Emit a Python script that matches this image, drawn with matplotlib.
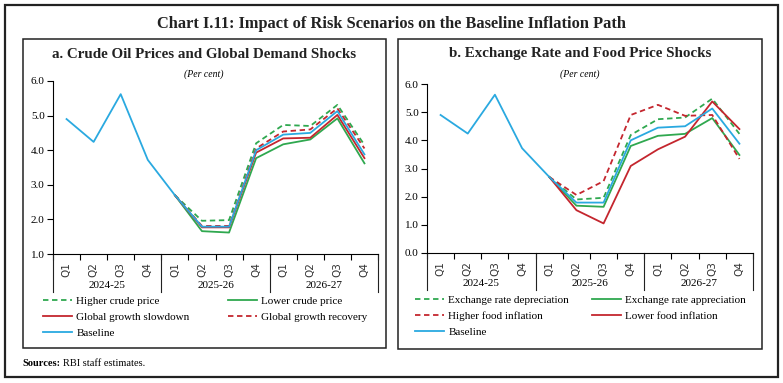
import matplotlib.pyplot as plt
from matplotlib.patches import Rectangle
from matplotlib.lines import Line2D

plt.rcParams['font.family'] = ['Liberation Serif', 'DejaVu Serif']

quarters = ['Q1', 'Q2', 'Q3', 'Q4'] * 3
years = ['2024-25', '2025-26', '2026-27']

baseline = [4.9, 4.24, 5.62, 3.72, 2.7, 1.79, 1.79, 4.0, 4.45, 4.5, 5.13, 3.88]

# panel a
higher_crude = [None, None, None, None, 2.7, 1.96, 1.98, 4.2, 4.73, 4.70, 5.31, 4.15]
lower_crude = [None, None, None, None, 2.7, 1.66, 1.62, 3.77, 4.17, 4.31, 4.92, 3.62]
growth_slowdown = [None, None, None, None, 2.7, 1.77, 1.77, 3.93, 4.34, 4.36, 5.02, 3.77]
growth_recovery = [None, None, None, None, 2.7, 1.81, 1.81, 4.05, 4.54, 4.60, 5.21, 4.05]

# panel b
fx_depreciation = [None, None, None, None, 2.7, 1.90, 1.96, 4.19, 4.75, 4.81, 5.48, 4.23]
fx_appreciation = [None, None, None, None, 2.7, 1.68, 1.64, 3.80, 4.16, 4.23, 4.79, 3.48]
higher_food = [None, None, None, None, 2.7, 2.06, 2.55, 4.90, 5.26, 4.87, 4.90, 3.34]
lower_food = [None, None, None, None, 2.7, 1.52, 1.05, 3.09, 3.68, 4.13, 5.38, 4.40]

green = '#2fa84f'
red = '#c4262e'
blue = '#2aa9e0'

W, H = 783, 383
fig = plt.figure(figsize=(W / 100, H / 100), dpi=100)


def px_axes(x0, x1, ytop, ybot):
    return fig.add_axes([x0 / W, 1 - ybot / H, (x1 - x0) / W, (ybot - ytop) / H])


def fx(x):
    return x / W


def fy(y):
    return 1 - y / H


# frames
fig.patches.append(Rectangle((fx(5), fy(377)), fx(773), (372) / H, transform=fig.transFigure,
                             fill=False, lw=1.6, ec='#222222'))
fig.patches.append(Rectangle((fx(23), fy(348)), fx(363), (309) / H, transform=fig.transFigure,
                             fill=False, lw=1.1, ec='#222222'))
fig.patches.append(Rectangle((fx(398), fy(349)), fx(364), (310) / H, transform=fig.transFigure,
                             fill=False, lw=1.1, ec='#222222'))

fig.text(0.5, fy(24), 'Chart I.11: Impact of Risk Scenarios on the Baseline Inflation Path',
         ha='center', va='center', fontsize=11.8, fontweight='bold', color='#222222')
fig.text(fx(204), fy(54), 'a. Crude Oil Prices and Global Demand Shocks',
         ha='center', va='center', fontsize=10.8, fontweight='bold', color='#222222')
fig.text(fx(580), fy(54), 'b. Exchange Rate and Food Price Shocks',
         ha='center', va='center', fontsize=10.8, fontweight='bold', color='#222222')
fig.text(fx(204), fy(74), '(Per cent)', ha='center', va='center', fontsize=7, style='italic')
fig.text(fx(580), fy(74), '(Per cent)', ha='center', va='center', fontsize=7, style='italic')

# source note: bold label, then plain text right after it
src = fig.text(fx(22), fy(364), 'Sources:', ha='left', va='center', fontsize=7.5,
               fontweight='bold')
fig.add_artist(plt.Annotation('RBI staff estimates.', xy=(1, 0.5), xycoords=src,
                              xytext=(2.5, 0), textcoords='offset points',
                              ha='left', va='center', fontsize=7.5))


def style_axis(ax, ylim, yticks):
    x = list(range(len(quarters)))
    ax.set_xlim(-0.5, len(quarters) - 0.5)
    ax.set_ylim(*ylim)
    ax.set_yticks(yticks)
    ax.set_yticklabels([f'{v:.1f}' for v in yticks], fontsize=8)
    ax.tick_params(axis='y', length=4, width=0.8, pad=2)
    ax.spines['top'].set_visible(False)
    ax.spines['right'].set_visible(False)
    ax.spines['left'].set_linewidth(0.8)
    ax.spines['bottom'].set_linewidth(0.8)
    # ticks sit on the category boundaries, labels are drawn as text
    ax.set_xticks([i - 0.5 for i in range(len(quarters) + 1)])
    ax.set_xticklabels([])
    ax.tick_params(axis='x', length=4, width=0.8, direction='out')
    trans = ax.get_xaxis_transform()
    for i, q in enumerate(quarters):
        ax.text(x[i], -0.09, q, transform=trans, rotation=90, ha='center', va='center',
                fontsize=7.5, fontfamily='DejaVu Sans', color='#333333')
    for j, yr in enumerate(years):
        ax.text(4 * j + 1.5, -0.18, yr, transform=trans, ha='center', va='center', fontsize=8)
    for b in [-0.5, 3.5, 7.5, 11.5]:
        ax.add_line(Line2D([b, b], [0, -0.22], transform=trans, color='#222222', lw=0.8,
                           clip_on=False))


lw = 1.3
dash = (0, (3, 2))
x = list(range(len(quarters)))

# panel a
ax1 = px_axes(53, 378, 81, 254)
style_axis(ax1, (1.0, 6.0), [1.0, 2.0, 3.0, 4.0, 5.0, 6.0])
h1, = ax1.plot(x, higher_crude, color=green, lw=lw, ls=dash)
h2, = ax1.plot(x, lower_crude, color=green, lw=lw)
h3, = ax1.plot(x, growth_slowdown, color=red, lw=lw)
h4, = ax1.plot(x, growth_recovery, color=red, lw=lw, ls=dash)
h5, = ax1.plot(x, baseline, color=blue, lw=lw)

leg_kw = dict(frameon=False, fontsize=8, handlelength=2.6, handletextpad=0.4,
              labelspacing=0.55, borderaxespad=0, borderpad=0, loc='upper left')
fig.legend([h1, h3, h5], ['Higher crude price', 'Global growth slowdown', 'Baseline'],
           bbox_to_anchor=(fx(43), fy(296)), **leg_kw)
fig.legend([h2, h4], ['Lower crude price', 'Global growth recovery'],
           bbox_to_anchor=(fx(228), fy(296)), **leg_kw)

# panel b
ax2 = px_axes(427, 753, 84, 253)
style_axis(ax2, (0.0, 6.0), [0.0, 1.0, 2.0, 3.0, 4.0, 5.0, 6.0])
g1, = ax2.plot(x, fx_depreciation, color=green, lw=lw, ls=dash)
g2, = ax2.plot(x, fx_appreciation, color=green, lw=lw)
g3, = ax2.plot(x, higher_food, color=red, lw=lw, ls=dash)
g4, = ax2.plot(x, lower_food, color=red, lw=lw)
g5, = ax2.plot(x, baseline, color=blue, lw=lw)

fig.legend([g1, g3, g5], ['Exchange rate depreciation', 'Higher food inflation', 'Baseline'],
           bbox_to_anchor=(fx(415), fy(295)), **leg_kw)
fig.legend([g2, g4], ['Exchange rate appreciation', 'Lower food inflation'],
           bbox_to_anchor=(fx(592), fy(295)), **leg_kw)

plt.savefig('out.png', dpi=100)
